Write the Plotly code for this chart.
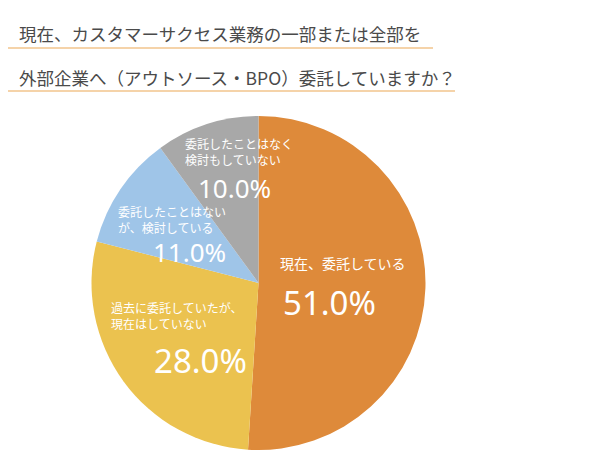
import plotly.graph_objects as go

# ---- data ----
categories = ["現在、委託している", "過去に委託していたが、現在はしていない",
              "委託したことはないが、検討している", "委託したことはなく検討もしていない"]
label_lines = [["現在、委託している"],
               ["過去に委託していたが、", "現在はしていない"],
               ["委託したことはない", "が、検討している"],
               ["委託したことはなく", "検討もしていない"]]
values = [51.0, 28.0, 11.0, 10.0]
title_lines = ["現在、カスタマーサクセス業務の一部または全部を",
               "外部企業へ（アウトソース・BPO）委託していますか？"]

colors = ["#DE8A3A", "#EBC24F", "#9FC5E8", "#A8A8A8"]

W, H = 600, 461
def px(x): return x / W
def py(y): return 1 - y / H

cx, cy, r = 258.5, 283, 167

fig = go.Figure(go.Pie(
    labels=categories, values=values, sort=False, direction="clockwise",
    rotation=0, marker=dict(colors=colors, line=dict(width=0)),
    textinfo="none", hoverinfo="label+percent", showlegend=False,
    domain=dict(x=[px(cx - r), px(cx + r)], y=[py(cy + r), py(cy - r)]),
))

FONT = "Noto Sans CJK JP"
ann = []
# title
for t, y in zip(title_lines, [33, 77]):
    ann.append(dict(text=t, x=px(17), y=py(y), xref="paper", yref="paper",
                    xanchor="left", yanchor="middle", showarrow=False,
                    font=dict(family=FONT, size=17.5, color="#4a4a4a")))

# label layout: (x_left, first line y, line gap, small font, pct x, pct y, pct size)
lay = [
    (278, 263, 16, 14, 281, 302, 33),
    (109, 307, 16, 12, 152, 360, 33),
    (116, 211, 16, 12, 151, 252, 26),
    (183, 143, 16, 12, 196, 188, 26),
]
for lines, v, (lx, ly, gap, fs, pxx, pyy, ps) in zip(label_lines, values, lay):
    for i, ln in enumerate(lines):
        ann.append(dict(text=ln, x=px(lx), y=py(ly + i * gap), xref="paper", yref="paper",
                        xanchor="left", yanchor="middle", showarrow=False,
                        font=dict(family=FONT, size=fs, color="white")))
    ann.append(dict(text=f"{v:.1f}%", x=px(pxx), y=py(pyy), xref="paper", yref="paper",
                    xanchor="left", yanchor="middle", showarrow=False,
                    font=dict(family="Noto Sans", size=ps, color="white")))

shapes = [
    dict(type="line", xref="paper", yref="paper", x0=px(8), x1=px(433), y0=py(48), y1=py(48),
         line=dict(color="#F2C58C", width=1.5)),
    dict(type="line", xref="paper", yref="paper", x0=px(8), x1=px(455), y0=py(91), y1=py(91),
         line=dict(color="#F2C58C", width=1.5)),
]

fig.update_layout(width=W, height=H, margin=dict(l=0, r=0, t=0, b=0),
                  paper_bgcolor="white", plot_bgcolor="white",
                  annotations=ann, shapes=shapes)
fig.write_html("out.html")
